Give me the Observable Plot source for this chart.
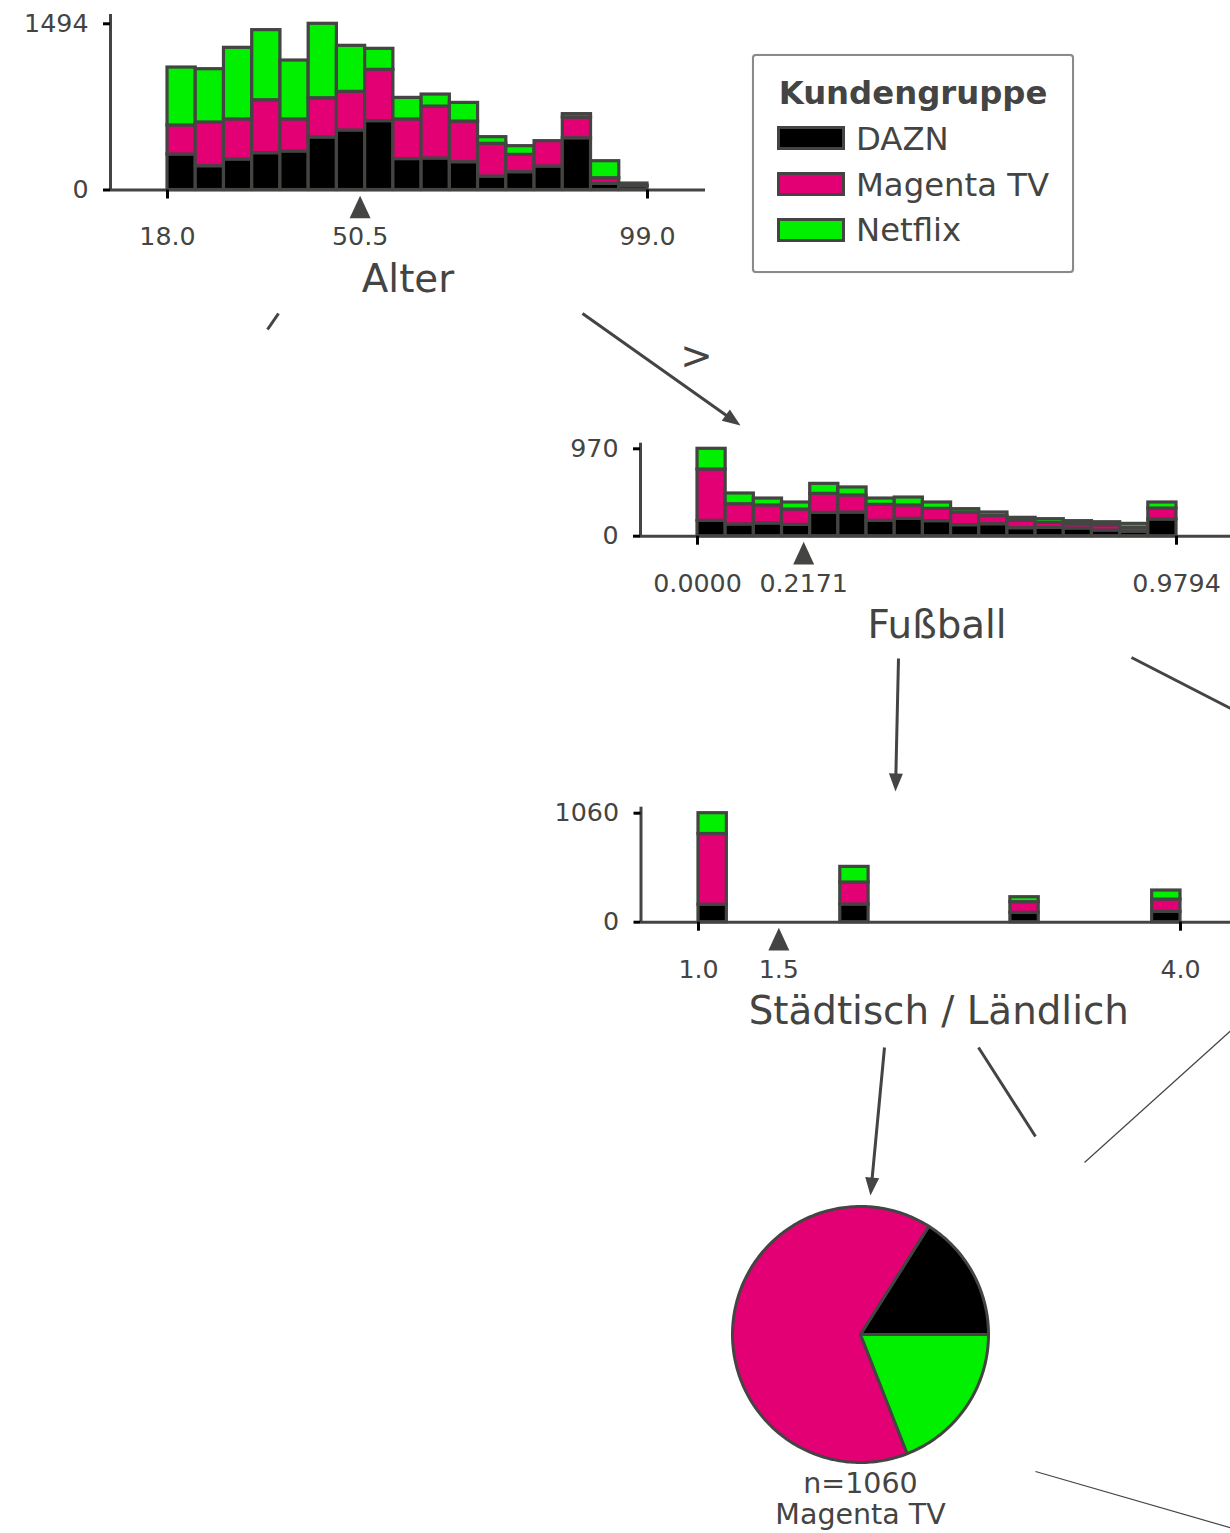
<!DOCTYPE html>
<html>
<head>
<meta charset="utf-8">
<script src="https://cdn.jsdelivr.net/npm/d3@7"></script>
<script src="https://cdn.jsdelivr.net/npm/@observablehq/plot@0.6"></script>
<style>
  html, body { margin: 0; padding: 0; background: #ffffff; }
  #page { position: relative; width: 1230px; height: 1533px; overflow: hidden;
          font-family: "DejaVu Sans", sans-serif; color: #444443; background: #fff; }
  .legend-box { position: absolute; left: 752px; top: 54px; width: 322px; height: 219px;
                box-sizing: border-box; border: 2px solid #8a8a8a; border-radius: 4px; background: #fff;
                box-shadow: 0 0 1px #bbb; }
  .legend-title { position: absolute; left: 752px; width: 322px; text-align: center;
                  font-weight: bold; font-size: 32.3px; line-height: 32.3px; white-space: nowrap; }
  .legend-swatch { position: absolute; box-sizing: border-box; border: 3px solid #444443; width: 68px; height: 24px; }
  .legend-text { position: absolute; font-size: 32.3px; line-height: 32.3px; white-space: nowrap; }
</style>
</head>
<body>
<div id="page"></div>
<script>
// ---------- data ----------
const classes = ["DAZN", "Magenta TV", "Netflix"];
const classColors = ["#000000", "#e20074", "#00f000"];
const legendTitle = "Kundengruppe";
const nBins = 17;

// Node 1: Alter
const alterLabel = "Alter";
const alterRange = [18.0, 99.0];
const alterSplit = 50.5;
const alterXTickLabels = ["18.0", "50.5", "99.0"];
const alterYMax = 1494;
const alterDAZN    = [319, 214, 274, 331, 346, 472, 535, 619, 278, 283, 250, 121, 160, 211, 465, 55, 33];
const alterMagenta = [261, 393, 360, 476, 288, 353, 347, 461, 356, 467, 365, 294, 156, 228, 186, 51, 5];
const alterNetflix = [521, 479, 644, 630, 530, 669, 414, 189, 194, 108, 168, 60, 78, 0, 31, 153, 20];

// Node 2: Fußball
const fussballLabel = "Fußball";
const fussballRange = [0.0, 0.9794];
const fussballSplit = 0.2171;
const fussballXTickLabels = ["0.0000", "0.2171", "0.9794"];
const fussballYMax = 970;
const fussballDAZN    = [170, 130, 141, 126, 259, 263, 170, 193, 167, 122, 133, 89, 93, 85, 63, 48, 185];
const fussballMagenta = [570, 225, 200, 170, 211, 189, 178, 148, 137, 140, 90, 83, 55, 48, 59, 45, 122];
const fussballNetflix = [230, 119, 77, 78, 111, 89, 70, 88, 70, 38, 40, 32, 41, 34, 33, 44, 67];

// Node 3: Städtisch / Ländlich
const staedtischLabel = "Städtisch / Ländlich";
const staedtischRange = [1.0, 4.0];
const staedtischSplit = 1.5;
const staedtischXTickLabels = ["1.0", "1.5", "4.0"];
const staedtischYMax = 1060;
const staedtischValues  = [1, 2, 3, 4];
const staedtischDAZN    = [170, 172, 91, 100];
const staedtischMagenta = [688, 214, 104, 120];
const staedtischNetflix = [202, 152, 48, 88];

// Leaf
const leafCounts = [170, 688, 202];
const leafSizeLabel = "n=1060";
const leafClassLabel = "Magenta TV";

// Edge label
const edgeLabel = ">";

// ---------- layout (page pixels) ----------
const dark = "#444443";
const tickFont = 25.3;
const labelFont = 38.8;
const barStroke = 3.2;
const layouts = {
  alter:      {left: 0,   top: 0,   width: 740, height: 312, axisLeft: 110,   axisRight: 705,  axisTop: 14,    axisBottom: 189.5, xMinPx: 167, xMaxPx: 647,  yMaxPx: 23.3},
  fussball:   {left: 540, top: 425, width: 710, height: 232, axisLeft: 640,   axisRight: 1233, axisTop: 442.7, axisBottom: 535.7, xMinPx: 697, xMaxPx: 1176, yMaxPx: 448.3},
  staedtisch: {left: 540, top: 790, width: 710, height: 252, axisLeft: 640.5, axisRight: 1236, axisTop: 806.7, axisBottom: 921.7, xMinPx: 698, xMaxPx: 1180, yMaxPx: 812.7}
};
const pieLayout = {left: 710, top: 1184, size: 300, radiusPx: 128, textRoom: 70};
const edges = [
  {x1: 582,  y1: 313,  x2: 740,  y2: 425,  w: 3,   head: true},
  {x1: 898,  y1: 658,  x2: 895,  y2: 791,  w: 3,   head: true},
  {x1: 884,  y1: 1047, x2: 870,  y2: 1195, w: 3,   head: true},
  {x1: 1131, y1: 657,  x2: 1240, y2: 713,  w: 3,   head: false},
  {x1: 978,  y1: 1047, x2: 1035, y2: 1136, w: 3,   head: false},
  {x1: 278,  y1: 313,  x2: 267,  y2: 329,  w: 3,   head: false},
  {x1: 1236, y1: 1025, x2: 1084, y2: 1162, w: 1.2, head: false},
  {x1: 1035, y1: 1471, x2: 1236, y2: 1529, w: 1.2, head: false}
];
const edgeLabelPos = {x: 696, y: 356};

// ---------- helpers ----------
const page = document.getElementById("page");
const baseStyle = {fontFamily: "DejaVu Sans, sans-serif", background: "transparent", overflow: "visible", color: dark};

const splitTriangle = {
  draw(ctx, size) {
    const r = Math.sqrt(size / Math.PI);
    ctx.moveTo(0, -r * 1.08);
    ctx.lineTo(r, r * 1.08);
    ctx.lineTo(-r, r * 1.08);
    ctx.closePath();
  }
};
const arrowHead = {
  draw(ctx, size) {
    ctx.moveTo(0, 0);
    ctx.lineTo(7, 18);
    ctx.lineTo(-7, 18);
    ctx.closePath();
  }
};

function place(el, left, top) {
  el.style.position = "absolute";
  el.style.left = left + "px";
  el.style.top = top + "px";
  page.appendChild(el);
}

function histogramNode(spec) {
  const L = spec.layout;
  const [xmin, xmax] = spec.range;
  const ppuX = (L.xMaxPx - L.xMinPx) / (xmax - xmin);
  const xDomain = [xmin - (L.xMinPx - L.axisLeft) / ppuX, xmax + (L.axisRight - L.xMaxPx) / ppuX];
  const ppuY = (L.axisBottom - L.yMaxPx) / spec.yMax;
  const yDomain = [0, (L.axisBottom - L.axisTop) / ppuY];
  const bw = (xmax - xmin) / nBins;
  const rows = [];
  spec.bars.forEach(({bin, counts}) => {
    let cum = 0;
    counts.forEach((c, k) => {
      if (c > 0) rows.push({x1: xmin + bin * bw, x2: xmin + (bin + 1) * bw, y1: cum, y2: cum + c, cls: classes[k]});
      cum += c;
    });
  });
  const xTickVals = [xmin, spec.split, xmax];
  const xLabelMap = new Map(xTickVals.map((v, i) => [v, spec.xTickLabels[i]]));
  const chart = Plot.plot({
    width: L.width, height: L.height,
    marginLeft: L.axisLeft - L.left,
    marginRight: L.left + L.width - L.axisRight,
    marginTop: L.axisTop - L.top,
    marginBottom: L.top + L.height - L.axisBottom,
    x: {domain: xDomain},
    y: {domain: yDomain},
    color: {domain: classes, range: classColors},
    style: baseStyle,
    marks: [
      Plot.rect(rows, {x1: "x1", x2: "x2", y1: "y1", y2: "y2", fill: "cls", stroke: dark, strokeWidth: barStroke, inset: 0}),
      Plot.ruleY([0], {stroke: dark, strokeWidth: 3}),
      Plot.ruleX([xDomain[0]], {stroke: dark, strokeWidth: 3}),
      Plot.axisY({ticks: [0, spec.yMax], tickSize: 7, tickPadding: 15, fontSize: tickFont, stroke: "#000", strokeWidth: 3, fill: dark, label: null, tickFormat: d => String(d)}),
      Plot.axisX({ticks: [xmin, xmax], tickSize: 9, stroke: "#000", strokeWidth: 3, label: null, tickFormat: () => ""}),
      Plot.axisX({ticks: xTickVals, tickSize: 0, tickPadding: 37.5, fontSize: tickFont, fill: dark, label: null, tickFormat: d => xLabelMap.get(d)}),
      Plot.dot([spec.split], {x: d => d, y: () => 0, symbol: splitTriangle, r: 10.5, fill: dark, stroke: "none", dy: 17}),
      Plot.text([spec.label], {text: d => d, frameAnchor: "bottom", dy: 102, fontSize: labelFont, fill: dark, lineAnchor: "bottom"})
    ]
  });
  place(chart, L.left, L.top);
}

// ---------- edges overlay ----------
function shorten(e) {
  if (!e.head) return [e.x2, e.y2];
  const dx = e.x2 - e.x1, dy = e.y2 - e.y1, len = Math.hypot(dx, dy);
  return [e.x2 - dx / len * 12, e.y2 - dy / len * 12];
}
const overlay = Plot.plot({
  width: 1230, height: 1533,
  margin: 0,
  x: {domain: [0, 1230], range: [0, 1230], axis: null},
  y: {domain: [0, 1533], range: [0, 1533], axis: null},
  style: baseStyle,
  marks: [
    Plot.link(edges, {x1: "x1", y1: "y1", x2: e => shorten(e)[0], y2: e => shorten(e)[1], stroke: dark, strokeWidth: e => e.w}),
    Plot.dot(edges.filter(e => e.head), {
      x: "x2", y: "y2", symbol: arrowHead, r: 5, fill: dark, stroke: "none",
      rotate: e => Math.atan2(e.x2 - e.x1, -(e.y2 - e.y1)) * 180 / Math.PI
    }),
    Plot.text([edgeLabel], {text: d => d, x: () => edgeLabelPos.x, y: () => edgeLabelPos.y, fontSize: labelFont, fill: dark, textAnchor: "middle", lineAnchor: "middle"})
  ]
});
place(overlay, 0, 0);

// ---------- histogram nodes ----------
histogramNode({
  layout: layouts.alter, range: alterRange, split: alterSplit, xTickLabels: alterXTickLabels,
  yMax: alterYMax, label: alterLabel,
  bars: alterDAZN.map((d, i) => ({bin: i, counts: [d, alterMagenta[i], alterNetflix[i]]}))
});
histogramNode({
  layout: layouts.fussball, range: fussballRange, split: fussballSplit, xTickLabels: fussballXTickLabels,
  yMax: fussballYMax, label: fussballLabel,
  bars: fussballDAZN.map((d, i) => ({bin: i, counts: [d, fussballMagenta[i], fussballNetflix[i]]}))
});
{
  const bw = (staedtischRange[1] - staedtischRange[0]) / nBins;
  histogramNode({
    layout: layouts.staedtisch, range: staedtischRange, split: staedtischSplit, xTickLabels: staedtischXTickLabels,
    yMax: staedtischYMax, label: staedtischLabel,
    bars: staedtischValues.map((v, j) => ({
      bin: Math.min(nBins - 1, Math.floor((v - staedtischRange[0]) / bw + 1e-9)),
      counts: [staedtischDAZN[j], staedtischMagenta[j], staedtischNetflix[j]]
    }))
  });
}

// ---------- leaf pie ----------
{
  const P = pieLayout;
  const ext = (P.size / 2) / P.radiusPx;
  const total = d3.sum(leafCounts);
  const marks = [];
  let a0 = 0;
  leafCounts.forEach((c, k) => {
    const a1 = a0 + c / total * 2 * Math.PI;
    const steps = Math.max(2, Math.ceil((a1 - a0) / (Math.PI / 180)));
    const pts = [[0, 0]];
    for (let i = 0; i <= steps; i++) {
      const a = a0 + (a1 - a0) * i / steps;
      pts.push([Math.cos(a), Math.sin(a)]);
    }
    pts.push([0, 0]);
    marks.push(Plot.line(pts, {x: d => d[0], y: d => d[1], fill: classColors[k], stroke: dark, strokeWidth: 3, strokeLinejoin: "round"}));
    a0 = a1;
  });
  marks.push(Plot.text([leafSizeLabel + "\n" + leafClassLabel], {
    text: d => d, x: () => 0, y: () => -1, dy: 8, fontSize: 28.5, lineHeight: 1.09,
    fill: dark, textAnchor: "middle", lineAnchor: "top"
  }));
  const pie = Plot.plot({
    width: P.size, height: P.size + P.textRoom,
    marginLeft: 0, marginRight: 0, marginTop: 0, marginBottom: P.textRoom,
    x: {domain: [-ext, ext], axis: null},
    y: {domain: [-ext, ext], axis: null},
    style: baseStyle,
    marks
  });
  place(pie, P.left, P.top);
}

// ---------- legend ----------
{
  const box = document.createElement("div");
  box.className = "legend-box";
  page.appendChild(box);
  const title = document.createElement("div");
  title.className = "legend-title";
  title.textContent = legendTitle;
  title.style.top = "77px";
  page.appendChild(title);
  const swatchTops = [126, 172, 218];
  const textTops = [123, 168.5, 214];
  classes.forEach((c, k) => {
    const sw = document.createElement("div");
    sw.className = "legend-swatch";
    sw.style.left = "777px";
    sw.style.top = swatchTops[k] + "px";
    sw.style.background = classColors[k];
    page.appendChild(sw);
    const tx = document.createElement("div");
    tx.className = "legend-text";
    tx.style.left = "856px";
    tx.style.top = textTops[k] + "px";
    tx.textContent = c;
    page.appendChild(tx);
  });
}
</script>
</body>
</html>
